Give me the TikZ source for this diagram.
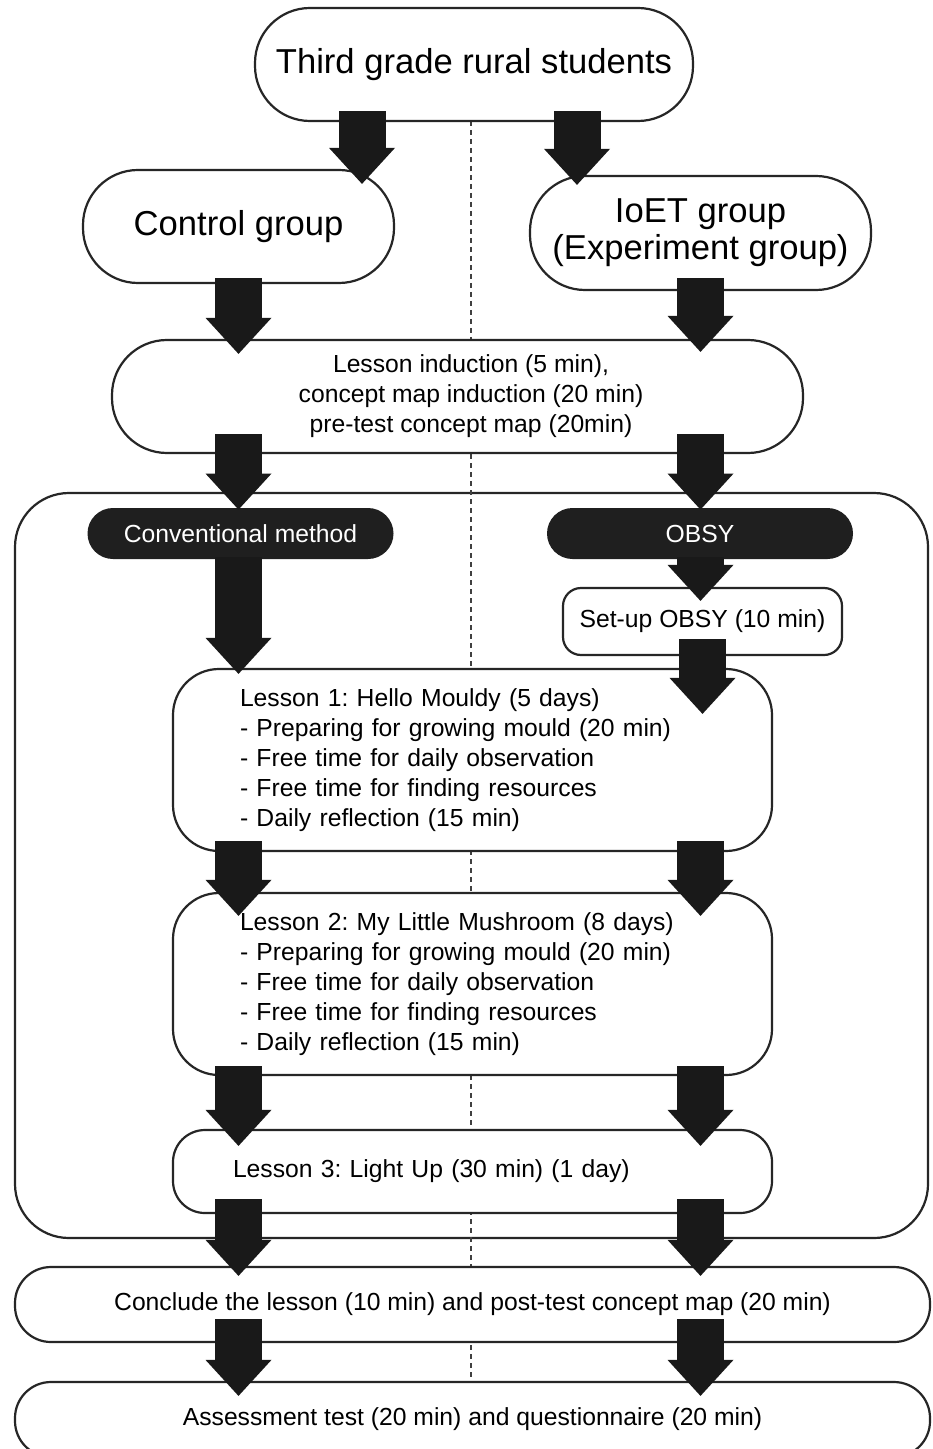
\documentclass[tikz,border=0pt]{standalone}
\usepackage{fontspec}
\setmainfont{Liberation Sans}
\usetikzlibrary{arrows.meta}

\newcommand{\bigfont}{\fontsize{17.3pt}{18.5pt}\selectfont}
\newcommand{\smallfont}{\fontsize{12.35pt}{15pt}\selectfont}
\frenchspacing

\begin{document}
\begin{tikzpicture}[%
  x=0.5pt, y=-0.5pt,
  >={Triangle[width=33pt,length=18pt,line width=0pt]},
  box/.style={draw=black!85, line width=1.1pt, fill=white, rounded corners=#1, inner sep=0pt},
  box/.default=25pt,
  bigbox/.style={box=27.5pt, minimum height=56.5pt, font=\bigfont, align=center},
  blackbox/.style={fill=black!88, text=white, rounded corners=12.75pt, minimum width=153pt,
    minimum height=25.5pt, inner sep=0pt, font=\smallfont},
  lesson/.style={box=23pt, minimum width=299.5pt, text width=232.5pt, align=left, font=\smallfont},
  wide/.style={box=18pt, minimum width=457.5pt, minimum height=37.5pt, font=\smallfont},
  blk/.style={->, line width=23.5pt, draw=black!90},
  sep/.style={dash pattern=on 2.5pt off 2pt, line width=0.8pt, draw=black!75},
]

  \useasboundingbox (0,0) rectangle (932,1449);
  \clip (0,0) rectangle (932,1449);
  \fill[white] (0,0) rectangle (932,1449);

  % frame of the teaching phase
  \draw[box=27pt] (15,493) rectangle (928,1238);

  % middle divider
  \draw[sep] (471,121) -- (471,1449);

  \node[bigbox, minimum width=219pt] (top) at (474,64.5) {Third grade rural students};
  \node[bigbox, minimum width=155.5pt] (ctrl) at (238.5,226.5) {Control group};
  \node[bigbox, minimum width=170.5pt, minimum height=57pt] (ioet) at (700.5,233)
    {IoET group\\(Experiment group)};
  \node[bigbox, minimum width=345.5pt,
    label={[font=\smallfont, align=center, xshift=6.75pt]center:{Lesson induction (5 min),\\
      concept map induction (20 min)\\pre-test concept map (20min)}}] (induct) at (457.5,396.5) {};

  \node[blackbox] (conv) at (240.5,533.5) {Conventional method};
  \node[blackbox] (obsy) at (700,533.5) {OBSY};
  \node[box=9pt, minimum width=139.5pt, minimum height=33.5pt, font=\smallfont] (setup)
    at (702.5,621.5) {Set-up OBSY (10 min)};

  \node[lesson, minimum height=91pt] (les1) at (472.5,760) {Lesson 1: Hello Mouldy (5 days)\\
    - Preparing for growing mould (20 min)\\- Free time for daily observation\\
    - Free time for finding resources\\- Daily reflection (15 min)};
  \node[lesson, minimum height=91pt] (les2) at (472.5,984) {Lesson 2: My Little Mushroom (8 days)\\
    - Preparing for growing mould (20 min)\\- Free time for daily observation\\
    - Free time for finding resources\\- Daily reflection (15 min)};
  \node[lesson, box=16pt, minimum height=41.5pt, text width=239.5pt] (les3) at (472.5,1171.5)
    {Lesson 3: Light Up (30 min) (1 day)};

  \node[wide] (concl) at (472.5,1304.5)
    {Conclude the lesson (10 min) and post-test concept map (20 min)};
  \node[wide] (assess) at (472.5,1419.5)
    {Assessment test (20 min) and questionnaire (20 min)};

  % block arrows
  \coordinate (t1) at ([xshift=-56pt,yshift=5.5pt]top.south);
  \coordinate (t2) at ([xshift=51.5pt,yshift=5.5pt]top.south);
  \draw[blk] (t1) -- ([yshift=-7.5pt]t1 |- ctrl.north);
  \draw[blk] (t2) -- ([yshift=-5pt]t2 |- ioet.north);

  \draw[blk] ([yshift=3pt]ctrl.south) -- ([yshift=-7.5pt]ctrl.south |- induct.north);
  \draw[blk] ([yshift=6.5pt]ioet.south) -- ([yshift=-6.5pt]ioet.south |- induct.north);

  \draw[blk] ([yshift=10pt]ctrl.south |- induct.south) -- ([yshift=-1pt]ctrl.south |- conv.north);
  \draw[blk] ([yshift=10pt]ioet.south |- induct.south) -- ([yshift=-1pt]ioet.south |- obsy.north);

  \draw[blk] ([yshift=1pt]ctrl.south |- conv.south) -- ([yshift=-3pt]ctrl.south |- les1.north);
  \draw[blk] ([yshift=1pt]ioet.south |- obsy.south) -- ([yshift=-7pt]ioet.south |- setup.north);
  \draw[blk] ([yshift=8.5pt]setup.south) -- ([yshift=-23pt]setup.south |- les1.north);

  \draw[blk] ([yshift=5.5pt]ctrl.south |- les1.south) -- ([yshift=-12pt]ctrl.south |- les2.north);
  \draw[blk] ([yshift=5.5pt]ioet.south |- les1.south) -- ([yshift=-12pt]ioet.south |- les2.north);

  \draw[blk] ([yshift=5pt]ctrl.south |- les2.south) -- ([yshift=-8.5pt]ctrl.south |- les3.north);
  \draw[blk] ([yshift=5pt]ioet.south |- les2.south) -- ([yshift=-8.5pt]ioet.south |- les3.north);

  \draw[blk] ([yshift=7.5pt]ctrl.south |- les3.south) -- ([yshift=-5pt]ctrl.south |- concl.north);
  \draw[blk] ([yshift=7.5pt]ioet.south |- les3.south) -- ([yshift=-5pt]ioet.south |- concl.north);

  \draw[blk] ([yshift=12pt]ctrl.south |- concl.south) -- ([yshift=-7.5pt]ctrl.south |- assess.north);
  \draw[blk] ([yshift=12pt]ioet.south |- concl.south) -- ([yshift=-7.5pt]ioet.south |- assess.north);

\end{tikzpicture}
\end{document}
